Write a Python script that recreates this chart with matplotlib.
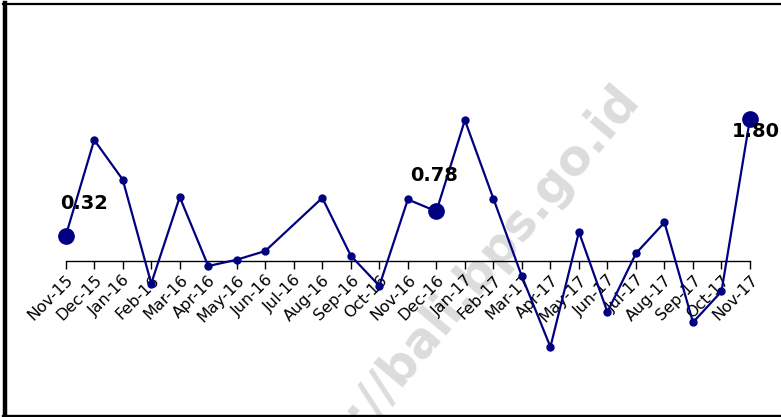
import matplotlib.pyplot as plt
import numpy as np
from matplotlib.lines import Line2D

# month-to-month change, Nov-15 .. Nov-17 (Jul-16 has no point)
months = [
    "Nov-15", "Dec-15", "Jan-16", "Feb-16", "Mar-16", "Apr-16", "May-16",
    "Jun-16", "Jul-16", "Aug-16", "Sep-16", "Oct-16", "Nov-16", "Dec-16",
    "Jan-17", "Feb-17", "Mar-17", "Apr-17", "May-17", "Jun-17", "Jul-17",
    "Aug-17", "Sep-17", "Oct-17", "Nov-17",
]
values = [
    0.32, 1.53, 1.03, -0.28, 0.81, -0.06, 0.02,
    0.13, np.nan, 0.80, 0.07, -0.31, 0.78, 0.63,
    1.78, 0.79, -0.19, -1.08, 0.37, -0.64, 0.10,
    0.49, -0.77, -0.38, 1.80,
]
highlight_idx = [0, 13, 24]
highlight_text = ["0.32", "0.78", "1.80"]

W, H = 781, 417
fig = plt.figure(figsize=(W / 100, H / 100), dpi=100)

# axes placed in pixels: x 65.7..750, y 20..380 (zero line at 261.3)
left, right, top, bottom = 65.7, 750.0, 20.0, 380.0
ax = fig.add_axes([left / W, 1 - bottom / H, (right - left) / W, (bottom - top) / H])
ax.patch.set_visible(False)

px_per_unit = 79.3
zero_px = 261.3
ax.set_ylim(-(bottom - zero_px) / px_per_unit, (zero_px - top) / px_per_unit)
ax.set_xlim(0, len(months) - 1)

x = np.arange(len(months))
y = np.array(values)
ok = ~np.isnan(y)
navy = "#000080"
ax.plot(x[ok], y[ok], color=navy, lw=1.6, marker="o", ms=5, zorder=3,
        clip_on=False)
ax.plot(x[highlight_idx], y[highlight_idx], "o", color=navy, ms=11, zorder=4,
        clip_on=False)

offsets = [(13, 23), (-2, 26), (4, -9)]
for i, txt, off in zip(highlight_idx, highlight_text, offsets):
    ax.annotate(txt, (x[i], y[i]), xytext=off, textcoords="offset points",
                ha="center", va="center", fontsize=14, fontweight="bold",
                color="black", zorder=5)

for s in ["left", "right", "top"]:
    ax.spines[s].set_visible(False)
ax.spines["bottom"].set_position(("data", 0))
ax.spines["bottom"].set_linewidth(1.0)
ax.set_yticks([])
ax.set_xticks(x)
ax.set_xticklabels(months, rotation=45, ha="right", rotation_mode="anchor",
                   fontsize=11.5)
ax.tick_params(axis="x", direction="out", length=6, width=1, pad=2)

# watermark
fig.text(0.57, 0.255, "https://bali.bps.go.id", rotation=50, fontsize=35,
         fontweight="bold", color="#dcdcdc", ha="center", va="center",
         zorder=-1)

# frame: left, top and bottom edges
fig.add_artist(Line2D([4.5 / W, 4.5 / W], [0, 1 - 3 / H], color="black", lw=3.2))
fig.add_artist(Line2D([3 / W, 1], [1 - 4 / H, 1 - 4 / H], color="black", lw=1.6))
fig.add_artist(Line2D([3 / W, 1], [1.5 / H, 1.5 / H], color="black", lw=2.4))

fig.savefig("out.png", dpi=100)
